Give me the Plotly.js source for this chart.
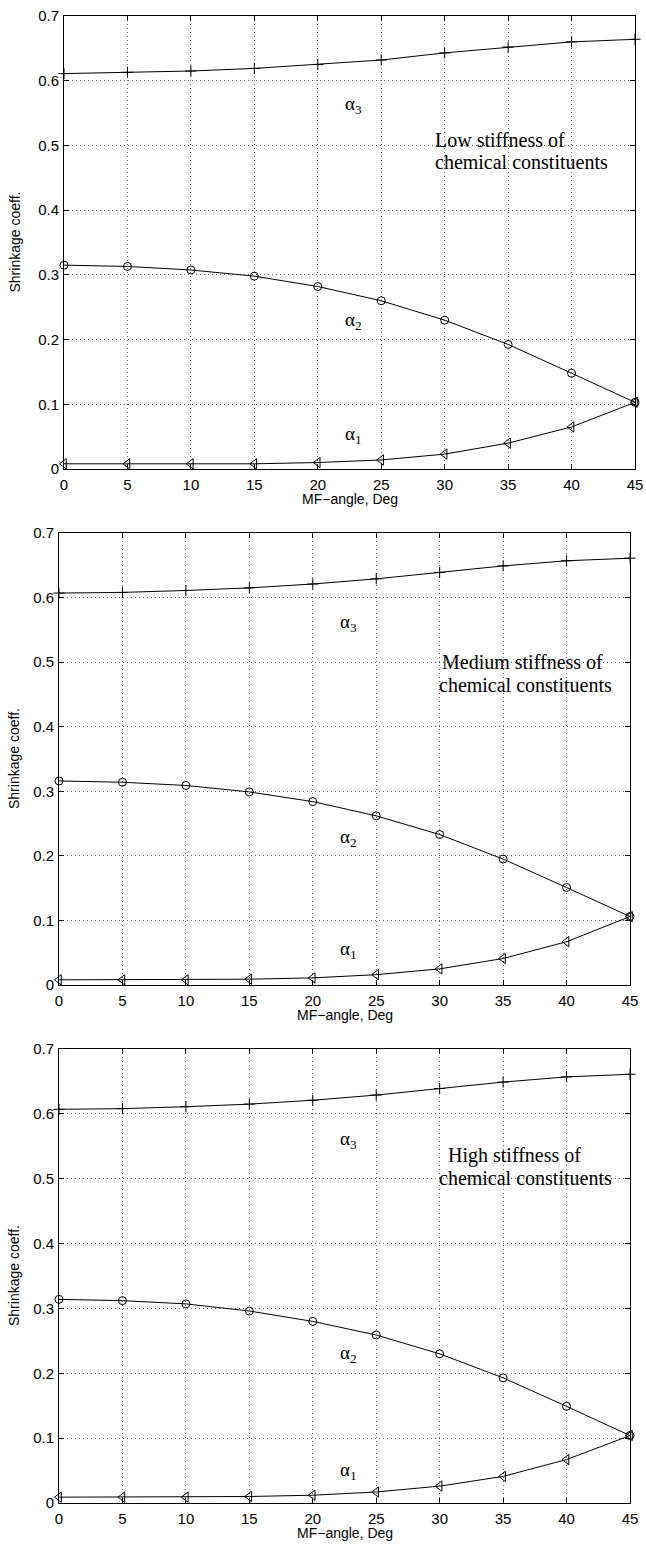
<!DOCTYPE html>
<html>
<head>
<meta charset="utf-8">
<script src="https://cdn.plot.ly/plotly-3.0.1.min.js"></script>
<style>html,body{margin:0;padding:0;background:#fff;}#chart{width:646px;height:1550px;}</style>
</head>
<body>
<div id="chart"></div>
<script>
// ---- data ----
const angles = [0, 5, 10, 15, 20, 25, 30, 35, 40, 45];

const lowAlpha1 = [0.008, 0.008, 0.008, 0.008, 0.010, 0.014, 0.023, 0.040, 0.065, 0.103];
const lowAlpha2 = [0.315, 0.313, 0.3075, 0.298, 0.282, 0.260, 0.230, 0.1925, 0.148, 0.103];
const lowAlpha3 = [0.611, 0.613, 0.615, 0.619, 0.625, 0.632, 0.643, 0.652, 0.660, 0.664];

const medAlpha1 = [0.008, 0.008, 0.008, 0.009, 0.011, 0.016, 0.025, 0.041, 0.067, 0.106];
const medAlpha2 = [0.316, 0.314, 0.309, 0.299, 0.284, 0.262, 0.233, 0.195, 0.151, 0.106];
const medAlpha3 = [0.607, 0.608, 0.611, 0.615, 0.621, 0.629, 0.639, 0.649, 0.657, 0.661];

const highAlpha1 = [0.009, 0.009, 0.009, 0.010, 0.012, 0.017, 0.026, 0.041, 0.067, 0.104];
const highAlpha2 = [0.314, 0.312, 0.307, 0.296, 0.280, 0.259, 0.230, 0.193, 0.149, 0.104];
const highAlpha3 = [0.607, 0.608, 0.611, 0.615, 0.621, 0.629, 0.639, 0.649, 0.657, 0.661];

const panelNames = ['Low', 'Medium', 'High'];
const xTickVals = [0, 5, 10, 15, 20, 25, 30, 35, 40, 45];
const xTickText = ['0', '5', '10', '15', '20', '25', '30', '35', '40', '45'];
const yTickVals = [0, 0.1, 0.2, 0.3, 0.4, 0.5, 0.6, 0.7];
const yTickText = ['0', '0.1', '0.2', '0.3', '0.4', '0.5', '0.6', '0.7'];
const xTitle = 'MF\u2212angle, Deg';
const yTitle = 'Shrinkage coeff.';

// ---- layout geometry (pixels) ----
const W = 646, H = 1550;
const panels = [
  {a1: lowAlpha1, a2: lowAlpha2, a3: lowAlpha3, left: 64, right: 635, top: 16, bottom: 469,
   lab: {a3: 0.563, a2: 0.229, a1: 0.053}, text: [[433, 140, 'Low stiffness of'], [433, 162, 'chemical constituents']]},
  {a1: medAlpha1, a2: medAlpha2, a3: medAlpha3, left: 59, right: 630, top: 533, bottom: 985,
   lab: {a3: 0.560, a2: 0.228, a1: 0.054}, text: [[440, 662, 'Medium stiffness of'], [437, 685, 'chemical constituents']]},
  {a1: highAlpha1, a2: highAlpha2, a3: highAlpha3, left: 59, right: 630, top: 1049, bottom: 1503,
   lab: {a3: 0.560, a2: 0.230, a1: 0.050}, text: [[446, 1155, 'High stiffness of'], [437, 1178, 'chemical constituents']]}
];

const serif = 'Liberation Serif, Times New Roman, serif';
const sans = 'Liberation Sans, Arial, Helvetica, sans-serif';

const traces = [];
const layout = {
  width: W, height: H, margin: {l: 0, r: 0, t: 0, b: 0},
  paper_bgcolor: '#fff', plot_bgcolor: '#fff', showlegend: false,
  font: {family: sans, color: '#000', size: 15},
  annotations: []
};

panels.forEach((p, i) => {
  const n = i === 0 ? '' : String(i + 1);
  const xa = 'x' + n, ya = 'y' + n;
  const lineStyle = {color: '#000', width: 1};
  traces.push({x: angles, y: p.a3, xaxis: xa, yaxis: ya, type: 'scatter', mode: 'lines+markers', cliponaxis: false,
    line: lineStyle, marker: {symbol: 'cross-thin-open', size: 8, color: '#000', line: {color: '#000', width: 1}}});
  traces.push({x: angles, y: p.a2, xaxis: xa, yaxis: ya, type: 'scatter', mode: 'lines+markers', cliponaxis: false,
    line: lineStyle, marker: {symbol: 'circle-open', size: 8, color: '#000', line: {color: '#000', width: 1}}});
  traces.push({x: angles, y: p.a1, xaxis: xa, yaxis: ya, type: 'scatter', mode: 'lines+markers', cliponaxis: false,
    line: lineStyle, marker: {symbol: 'triangle-left-open', size: 9, color: '#000', line: {color: '#000', width: 1}}});

  const common = {showline: true, linecolor: '#000', linewidth: 1, mirror: 'ticks', ticks: 'inside', ticklen: 5,
    tickcolor: '#000', showgrid: true, gridcolor: '#666', griddash: '1px,3px', gridwidth: 1, zeroline: false,
    tickfont: {family: sans, size: 15, color: '#000'}, fixedrange: true};
  layout['xaxis' + n] = Object.assign({}, common, {
    domain: [p.left / W, p.right / W], anchor: ya, range: [0, 45],
    tickmode: 'array', tickvals: xTickVals, ticktext: xTickText, ticklabelstandoff: 2
  });
  layout['yaxis' + n] = Object.assign({}, common, {
    domain: [1 - p.bottom / H, 1 - p.top / H], anchor: xa, range: [0, 0.7],
    tickmode: 'array', tickvals: yTickVals, ticktext: yTickText, ticklabelstandoff: 1
  });

  // axis titles
  layout.annotations.push({xref: 'paper', yref: 'paper', x: (p.left + p.right) / 2 / W, y: 1 - (p.bottom + 30) / H,
    text: xTitle, showarrow: false, xanchor: 'center', yanchor: 'middle', font: {family: sans, size: 14, color: '#000'}});
  layout.annotations.push({xref: 'paper', yref: 'paper', x: 14 / W, y: 1 - (p.top + p.bottom) / 2 / H,
    text: yTitle, showarrow: false, textangle: -90, xanchor: 'center', yanchor: 'middle', font: {family: sans, size: 14, color: '#000'}});

  // alpha labels
  [['a3', '3'], ['a2', '2'], ['a1', '1']].forEach(([k, s]) => {
    layout.annotations.push({xref: xa, yref: ya, x: 22, y: p.lab[k], text: '\u03b1<sub>' + s + '</sub>',
      showarrow: false, xanchor: 'left', yanchor: 'middle', font: {family: serif, size: 19, color: '#000'}});
  });
  // description text
  p.text.forEach(([px, py, t]) => {
    layout.annotations.push({xref: 'paper', yref: 'paper', x: px / W, y: 1 - py / H, text: t,
      showarrow: false, xanchor: 'left', yanchor: 'middle', font: {family: serif, size: 20, color: '#000'}});
  });
});

Plotly.newPlot('chart', traces, layout, {displayModeBar: false, staticPlot: true});
</script>
</body>
</html>
